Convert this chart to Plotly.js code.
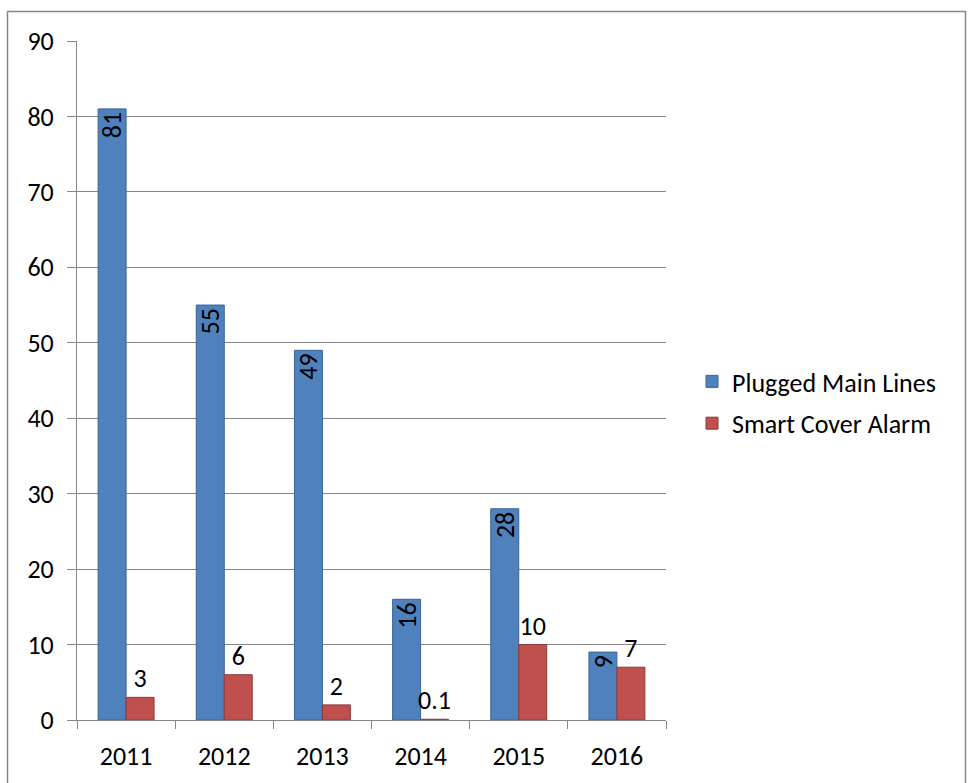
<!DOCTYPE html>
<html>
<head>
<meta charset="utf-8">
<script src="https://cdn.plot.ly/plotly-3.0.1.min.js"></script>
<style>
  html, body { margin: 0; padding: 0; background: #ffffff; }
  #chart { width: 968px; height: 783px; }
</style>
</head>
<body>
<div id="chart"></div>
<script>
const years = ['2011', '2012', '2013', '2014', '2015', '2016'];
const pluggedMainLines = [81, 55, 49, 16, 28, 9];
const smartCoverAlarm = [3, 6, 2, 0.1, 10, 7];
const pluggedLabels = ['81', '55', '49', '16', '28', '9'];
const alarmLabels = ['3', '6', '2', '0.1', '10', '7'];

const FONT = 'Carlito, Calibri, Lato, sans-serif';
const FS = 26;

const traces = [
  {
    type: 'bar',
    name: 'Plugged Main Lines',
    x: years,
    y: pluggedMainLines,
    text: pluggedLabels,
    textposition: 'inside',
    insidetextanchor: 'end',
    textangle: -90,
    textfont: { family: FONT, size: FS, color: '#000000' },
    constraintext: 'none',
    marker: { color: '#4F81BD', line: { color: '#3A6496', width: 1 } },
    legendgroup: 'a',
    hoverinfo: 'x+y'
  },
  {
    type: 'bar',
    name: 'Smart Cover Alarm',
    x: years,
    y: smartCoverAlarm,
    text: alarmLabels,
    textposition: 'outside',
    textangle: 0,
    textfont: { family: FONT, size: FS, color: '#000000' },
    constraintext: 'none',
    cliponaxis: false,
    marker: { color: '#C0504D', line: { color: '#8E3A38', width: 1 } },
    legendgroup: 'b',
    hoverinfo: 'x+y'
  }
];

const layout = {
  width: 968,
  height: 783,
  margin: { l: 77, r: 302, t: 41, b: 63 },
  paper_bgcolor: '#ffffff',
  plot_bgcolor: '#ffffff',
  font: { family: FONT, size: FS, color: '#000000' },
  barmode: 'group',
  bargap: 0.43,
  bargroupgap: 0,
  showlegend: true,
  legend: {
    x: (692 - 77) / 589, xanchor: 'left',
    y: (720 - 358) / 679, yanchor: 'top',
    traceorder: 'grouped',
    tracegroupgap: 5,
    font: { family: FONT, size: FS, color: '#000000' },
    bgcolor: 'rgba(0,0,0,0)'
  },
  xaxis: {
    type: 'category',
    showline: true,
    linecolor: '#868686',
    linewidth: 1,
    ticks: 'outside',
    tickson: 'boundaries',
    ticklen: 8,
    tickcolor: '#868686',
    showgrid: false,
    zeroline: false,
    ticklabelstandoff: 13,
    tickfont: { family: FONT, size: FS, color: '#000000' }
  },
  yaxis: {
    range: [0, 90],
    dtick: 10,
    tick0: 0,
    showline: true,
    linecolor: '#868686',
    linewidth: 1,
    ticks: 'outside',
    ticklen: 9,
    tickcolor: '#868686',
    showgrid: true,
    gridcolor: '#868686',
    gridwidth: 1,
    zeroline: false,
    ticklabelstandoff: 8,
    tickfont: { family: FONT, size: FS, color: '#000000' }
  },
  shapes: [
    {
      type: 'rect', xref: 'paper', yref: 'paper',
      x0: (7.5 - 77) / 589, x1: (965.5 - 77) / 589,
      y0: (720 - 800) / 679, y1: (720 - 11.5) / 679,
      line: { color: '#868686', width: 1.5 },
      fillcolor: 'rgba(0,0,0,0)',
      layer: 'below'
    }
  ]
};

Plotly.newPlot('chart', traces, layout, { displayModeBar: false, staticPlot: true });
</script>
</body>
</html>
